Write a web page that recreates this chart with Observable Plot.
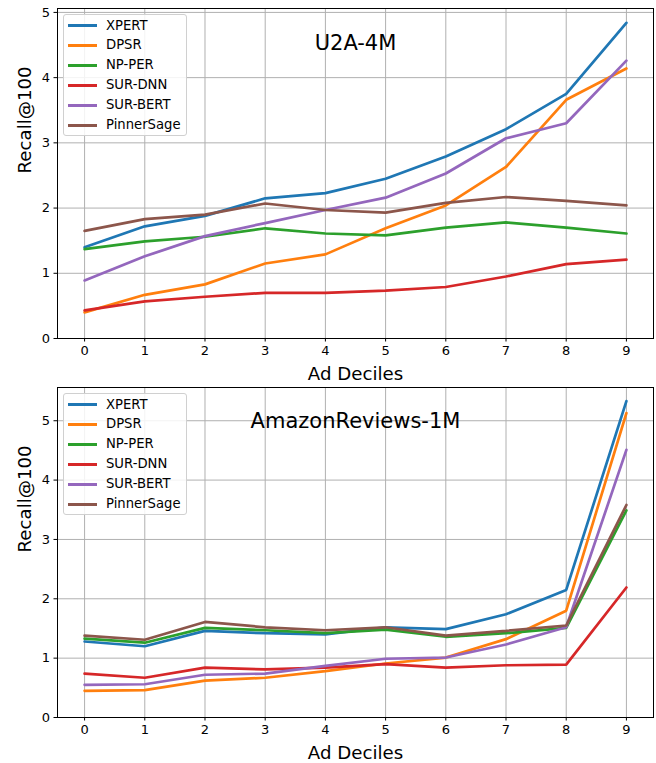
<!DOCTYPE html>
<html>
<head>
<meta charset="utf-8">
<script src="https://cdn.jsdelivr.net/npm/d3@7"></script>
<script src="https://cdn.jsdelivr.net/npm/@observablehq/plot@0.6"></script>
<style>
  html, body { margin: 0; padding: 0; background: #fff; }
  #wrap { position: relative; width: 656px; font-family: "DejaVu Sans", sans-serif; }
  .panel { position: relative; width: 656px; }
  .legend { position: absolute; box-sizing: border-box; border: 1px solid #d0d0d0; border-radius: 3px; background: rgba(255,255,255,0.85); }
  .legend .row { position: absolute; left: 0; height: 20px; font-size: 13.2px; line-height: 20px; color: #000; white-space: nowrap; }
  .legend .sw { position: absolute; left: 4px; top: 8.5px; width: 29px; height: 3px; }
  .legend .lab { position: absolute; left: 42px; top: 0; }
</style>
</head>
<body>
<div id="wrap"></div>
<script>
const deciles = [0, 1, 2, 3, 4, 5, 6, 7, 8, 9];
const seriesNames = ["XPERT", "DPSR", "NP-PER", "SUR-DNN", "SUR-BERT", "PinnerSage"];
const seriesColors = ["#1f77b4", "#ff7f0e", "#2ca02c", "#d62728", "#9467bd", "#8c564b"];
const yTicksTop = [0, 1, 2, 3, 4, 5];
const yTicksBottom = [0, 1, 2, 3, 4, 5];

// U2A-4M
const u2aXPERT      = [1.40, 1.72, 1.88, 2.15, 2.23, 2.45, 2.79, 3.21, 3.75, 4.84];
const u2aDPSR       = [0.40, 0.67, 0.83, 1.15, 1.29, 1.69, 2.04, 2.63, 3.66, 4.14];
const u2aNPPER      = [1.37, 1.49, 1.56, 1.69, 1.61, 1.58, 1.70, 1.78, 1.70, 1.61];
const u2aSURDNN     = [0.43, 0.57, 0.64, 0.70, 0.70, 0.735, 0.79, 0.95, 1.14, 1.21];
const u2aSURBERT    = [0.89, 1.26, 1.57, 1.77, 1.97, 2.16, 2.53, 3.07, 3.30, 4.26];
const u2aPinnerSage = [1.65, 1.83, 1.90, 2.07, 1.97, 1.93, 2.08, 2.17, 2.11, 2.04];

// AmazonReviews-1M
const amzXPERT      = [1.28, 1.20, 1.46, 1.42, 1.40, 1.52, 1.49, 1.74, 2.15, 5.33];
const amzDPSR       = [0.45, 0.46, 0.62, 0.67, 0.78, 0.91, 1.01, 1.32, 1.80, 5.13];
const amzNPPER      = [1.33, 1.26, 1.51, 1.47, 1.42, 1.48, 1.36, 1.42, 1.51, 3.49];
const amzSURDNN     = [0.74, 0.67, 0.84, 0.81, 0.84, 0.90, 0.84, 0.88, 0.89, 2.19];
const amzSURBERT    = [0.55, 0.56, 0.72, 0.74, 0.87, 0.99, 1.01, 1.23, 1.52, 4.51];
const amzPinnerSage = [1.38, 1.31, 1.61, 1.52, 1.47, 1.52, 1.38, 1.46, 1.55, 3.58];

function toLong(arrays) {
  const rows = [];
  arrays.forEach((vals, i) => {
    vals.forEach((v, j) => rows.push({series: seriesNames[i], decile: deciles[j], value: v}));
  });
  return rows;
}

const u2aData = toLong([u2aXPERT, u2aDPSR, u2aNPPER, u2aSURDNN, u2aSURBERT, u2aPinnerSage]);
const amzData = toLong([amzXPERT, amzDPSR, amzNPPER, amzSURDNN, amzSURBERT, amzPinnerSage]);

function makePanel(data, title, cfg) {
  const chart = Plot.plot({
    width: 656,
    height: cfg.height,
    marginTop: cfg.marginTop,
    marginBottom: cfg.marginBottom,
    marginLeft: 57,
    marginRight: 3,
    style: { fontFamily: "DejaVu Sans, sans-serif", fontSize: "13px", background: "#fff", overflow: "visible" },
    x: { domain: [-0.45, 9.45] },
    y: { domain: cfg.yDomain },
    color: { domain: seriesNames, range: seriesColors },
    marks: [
      Plot.gridX(deciles, { stroke: "#b0b0b0", strokeOpacity: 1, strokeWidth: 1 }),
      Plot.gridY(cfg.yTicks, { stroke: "#b0b0b0", strokeOpacity: 1, strokeWidth: 1 }),
      Plot.line(data, { x: "decile", y: "value", z: "series", stroke: "series", strokeWidth: 2.7, strokeLinejoin: "miter" }),
      Plot.frame({ stroke: "#000", strokeWidth: 1 }),
      Plot.axisX({ ticks: deciles, tickFormat: d => String(d), tickSize: 3.5, tickPadding: 4, label: null, fontSize: 13, color: "#000" }),
      Plot.axisY({ ticks: cfg.yTicks, tickFormat: d => String(d), tickSize: 3.5, tickPadding: 4, label: null, fontSize: 13, color: "#000" }),
      Plot.text([title], { frameAnchor: "top", lineAnchor: "middle", text: d => d, dy: cfg.titleDy, fontSize: 21, fill: "#000" }),
      Plot.text(["Ad Deciles"], { frameAnchor: "bottom", lineAnchor: "middle", text: d => d, dy: 36, fontSize: 18.2, fill: "#000" }),
      Plot.text(["Recall@100"], { frameAnchor: "left", lineAnchor: "middle", text: d => d, dx: -32, rotate: -90, fontSize: 18.2, fill: "#000" })
    ]
  });
  const panel = document.createElement("div");
  panel.className = "panel";
  panel.appendChild(chart);

  const lg = document.createElement("div");
  lg.className = "legend";
  lg.style.left = "63px";
  lg.style.top = cfg.legendTop + "px";
  lg.style.width = "124px";
  lg.style.height = "122px";
  seriesNames.forEach((name, i) => {
    const row = document.createElement("div");
    row.className = "row";
    row.style.top = (0.5 + i * 19.9) + "px";
    row.style.width = "122px";
    const sw = document.createElement("div");
    sw.className = "sw";
    sw.style.background = seriesColors[i];
    const lab = document.createElement("div");
    lab.className = "lab";
    lab.textContent = name;
    row.appendChild(sw);
    row.appendChild(lab);
    lg.appendChild(row);
  });
  panel.appendChild(lg);
  return panel;
}

const wrap = document.getElementById("wrap");
wrap.appendChild(makePanel(u2aData, "U2A-4M", {
  height: 382, marginTop: 8, marginBottom: 44, yDomain: [0, 5.06], yTicks: yTicksTop, titleDy: 35, legendTop: 14
}));
wrap.appendChild(makePanel(amzData, "AmazonReviews-1M", {
  height: 381, marginTop: 5, marginBottom: 46, yDomain: [0, 5.56], yTicks: yTicksBottom, titleDy: 34, legendTop: 11
}));
</script>
</body>
</html>
